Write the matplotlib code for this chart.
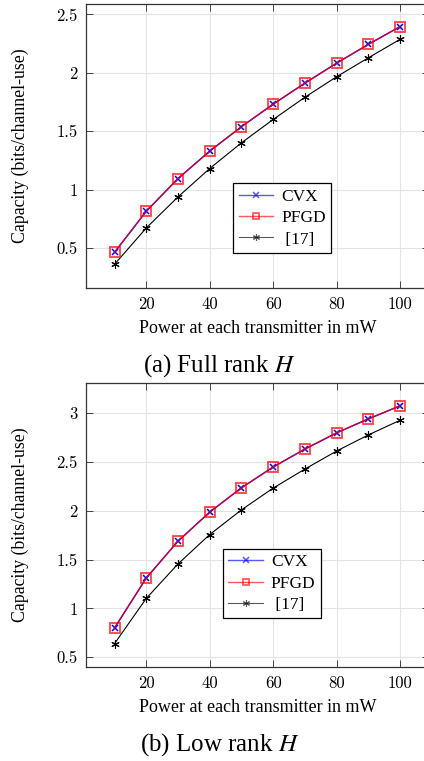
import matplotlib.pyplot as plt
from matplotlib.ticker import FuncFormatter

# Data
power = [10, 20, 30, 40, 50, 60, 70, 80, 90, 100]

full_cvx = [0.463, 0.814, 1.094, 1.329, 1.538, 1.731, 1.911, 2.082, 2.243, 2.395]
full_pfgd = [0.463, 0.814, 1.094, 1.329, 1.538, 1.731, 1.911, 2.082, 2.243, 2.395]
full_ref17 = [0.360, 0.671, 0.937, 1.180, 1.400, 1.600, 1.790, 1.966, 2.128, 2.286]

low_cvx = [0.800, 1.312, 1.689, 1.987, 2.236, 2.449, 2.633, 2.799, 2.942, 3.076]
low_pfgd = [0.800, 1.312, 1.689, 1.987, 2.236, 2.449, 2.633, 2.799, 2.942, 3.076]
low_ref17 = [0.640, 1.103, 1.456, 1.757, 2.010, 2.233, 2.428, 2.613, 2.778, 2.928]

xticks = [20, 40, 60, 80, 100]
yticks_full = [0.5, 1, 1.5, 2, 2.5]
yticks_low = [0.5, 1, 1.5, 2, 2.5, 3]

plt.rcParams['font.family'] = ['Liberation Serif', 'DejaVu Serif']
plt.rcParams['mathtext.fontset'] = 'stix'

fig = plt.figure(figsize=(4.24, 7.61), dpi=100)
W, H = 424, 761


def add_axes(left, top, right, bottom):
    return fig.add_axes([left / W, 1 - bottom / H, (right - left) / W, (bottom - top) / H])


ax1 = add_axes(86, 3.5, 428.6, 288)
ax2 = add_axes(86, 382.7, 428.6, 667.3)


def draw(ax, cvx, pfgd, ref, ylim, yticks, leg_anchor):
    ax.plot(power, cvx, color='blue', lw=1.0, marker='x', ms=5, mew=1.1, label='CVX', zorder=3)
    ax.plot(power, pfgd, color='red', lw=1.0, alpha=0.75, marker='s', ms=7, mfc='none',
            mec=(1, 0, 0, 0.75), mew=1.3, label='PFGD', zorder=4)
    ax.plot(power, ref, color='black', lw=0.8, marker=(6, 2, 0), ms=6, mew=0.8, label=' [17]', zorder=3)
    ax.set_xlim(1, 109)
    ax.set_ylim(*ylim)
    ax.set_xticks(xticks)
    ax.set_yticks(yticks)
    ax.yaxis.set_major_formatter(FuncFormatter(lambda v, p: '%g' % v))
    ax.grid(True, color='#e3e3e3', lw=0.8)
    ax.set_axisbelow(True)
    ax.tick_params(direction='in', length=5, width=0.7, color='#444444', top=True, right=True,
                   labelsize=12, pad=6)
    for lab in ax.get_xticklabels() + ax.get_yticklabels():
        lab.set_fontfamily('cmr10')
    for s in ax.spines.values():
        s.set_color('#333333')
        s.set_linewidth(0.9)
    ax.set_xlabel('Power at each transmitter in mW', fontsize=13)
    ax.xaxis.set_label_coords(0.5, -0.113)
    ax.set_ylabel('Capacity (bits/channel-use)', fontsize=12.8)
    ax.yaxis.set_label_coords(-0.165, 0.5)
    leg = ax.legend(loc='lower left', bbox_to_anchor=leg_anchor, fontsize=12.5, fancybox=False,
                    framealpha=1, edgecolor='black', handlelength=2.0, handletextpad=0.45,
                    labelspacing=0.3, borderpad=0.3, borderaxespad=0)
    leg.get_frame().set_linewidth(0.9)
    for h in leg.legend_handles:
        h.set_alpha(0.65)
        h.set_markersize(5)


draw(ax1, full_cvx, full_pfgd, full_ref17, (0.157, 2.593), yticks_full, (0.43, 0.124))
draw(ax2, low_cvx, low_pfgd, low_ref17, (0.397, 3.313), yticks_low, (0.40, 0.172))

fig.text(0.517, 1 - 366 / H, '(a) Full rank $H$', ha='center', va='center', fontsize=18)
fig.text(0.517, 1 - 745 / H, '(b) Low rank $H$', ha='center', va='center', fontsize=18)

fig.savefig('out.png', dpi=100)
